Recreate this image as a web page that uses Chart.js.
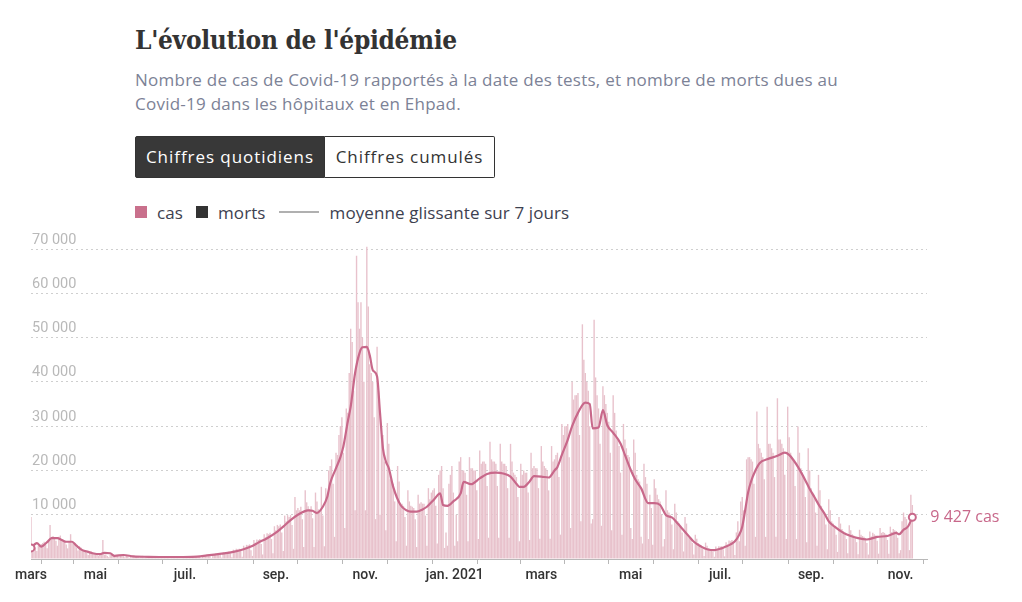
<!DOCTYPE html>
<html lang="fr">
<head>
<meta charset="utf-8">
<title>L'évolution de l'épidémie</title>
<script src="https://cdn.jsdelivr.net/npm/chart.js@4.4.0/dist/chart.umd.min.js"></script>
<style>
  body { margin: 0; background: #fff; font-family: "Open Sans", Roboto, sans-serif; }
  #titre { position: absolute; left: 135px; top: 25px; margin: 0; font: bold 26px "DejaVu Serif Condensed", "DejaVu Serif", serif; font-stretch: condensed; color: #333; letter-spacing: -0.3px; }
  #sousTitre { position: absolute; left: 135px; top: 68px; width: 720px; margin: 0; font-size: 17px; letter-spacing: 0.25px; line-height: 24px; color: #7c8296; }
  .nobr { white-space: nowrap; }
  #boutons { position: absolute; left: 135px; top: 136px; display: flex; }
  #boutons div { box-sizing: border-box; height: 42px; line-height: 40px; font-size: 17px; letter-spacing: 0.95px; text-align: center; border: 1px solid #333; }
  #boutons .actif { width: 190px; background: #383838; color: #fff; border-radius: 2px 0 0 2px; }
  #boutons .inactif { width: 170px; background: #fff; color: #333; border-left: none; border-radius: 0 2px 2px 0; }
  #legende { position: absolute; left: 135px; top: 200px; font-size: 17px; letter-spacing: 0.1px; color: #3d4150; display: flex; align-items: center; height: 24px; }
  #legende .carre { width: 12px; height: 12px; display: inline-block; margin-right: 10px; }
  #legende .trait { width: 40px; height: 2px; background: #b0b0b0; display: inline-block; margin-right: 11px; }
  #legende span.lbl { margin-right: 13px; }
  #zone { position: absolute; left: 0; top: 225px; width: 1022px; height: 377px; }
</style>
</head>
<body>
<h1 id="titre">L'évolution de l'épidémie</h1>
<p id="sousTitre">Nombre de cas de Covid-19 rapportés à la date des tests, et nombre de morts dues au <span class="nobr">Covid-19</span> dans les hôpitaux et en Ehpad.</p>
<div id="boutons"><div class="actif">Chiffres quotidiens</div><div class="inactif">Chiffres cumulés</div></div>
<div id="legende">
  <span class="carre" style="background:#c9708c"></span><span class="lbl">cas</span>
  <span class="carre" style="background:#333"></span><span class="lbl">morts</span>
  <span class="trait"></span><span>moyenne glissante sur 7 jours</span>
</div>
<div id="zone"><canvas id="graphique"></canvas></div>
<script>
// premier jour des données : mercredi 18 mars 2020 (jour 0)
const debut = Date.UTC(2020, 2, 18);

// cas quotidiens, en milliers, une ligne par semaine (mer. -> mar.)
const casEnMilliers = [
  9.5, 2.0, 2.4, 2.6, 1.8, 3.0, 3.3,
  3.4, 3.6, 3.9, 3.2, 2.4, 4.2, 7.7,
  5.0, 5.2, 4.8, 4.1, 3.0, 5.0, 5.3,
  4.4, 4.2, 3.9, 3.3, 2.4, 3.9, 5.6,
  3.6, 3.4, 3.1, 2.6, 1.9, 2.9, 2.6,
  2.0, 1.9, 1.7, 1.4, 0.9, 1.6, 1.7,
  1.4, 1.3, 1.3, 1.0, 0.7, 1.2, 1.3,
  4.3, 1.0, 1.0, 0.7, 0.4, 1.0, 1.0,
  0.9, 0.5, 0.9, 0.7, 0.4, 0.9, 0.9,
  0.8, 0.4, 0.8, 0.6, 0.3, 0.8, 0.8,
  0.7, 0.7, 0.6, 0.5, 0.2, 0.6, 0.7,
  0.6, 0.6, 0.6, 0.4, 0.2, 0.6, 0.6,
  0.6, 0.5, 0.5, 0.4, 0.2, 0.6, 0.6,
  0.5, 0.5, 0.5, 0.4, 0.2, 0.6, 0.6,
  0.6, 0.5, 0.6, 0.4, 0.2, 0.7, 0.6,
  0.6, 0.6, 0.6, 0.4, 0.2, 0.7, 0.6,
  0.7, 0.7, 0.7, 0.5, 0.2, 0.8, 0.7,
  0.9, 0.9, 0.9, 0.7, 0.2, 1.1, 1.0,
  1.2, 1.2, 1.2, 0.9, 0.3, 1.6, 1.4,
  1.6, 1.6, 1.7, 1.3, 0.4, 2.1, 1.9,
  2.3, 2.2, 2.3, 1.8, 0.5, 3.0, 2.6,
  3.2, 3.1, 3.3, 2.0, 0.7, 4.3, 3.7,
  4.4, 4.3, 4.5, 3.4, 1.0, 5.6, 4.9,
  5.8, 5.6, 5.9, 4.5, 1.3, 7.4, 6.5,
  7.7, 7.4, 7.8, 6.0, 1.8, 9.8, 8.5,
  9.9, 9.5, 9.9, 7.7, 2.3, 14.0, 11.0,
  11.5, 11.0, 11.8, 9.0, 2.7, 15.5, 12.8,
  11.9, 11.3, 11.9, 9.2, 2.7, 15.0, 13.0,
  11.2, 11.0, 16.3, 9.8, 2.9, 16.0, 14.0,
  20.0, 21.0, 22.5, 17.0, 5.0, 24.0, 23.5,
  28.0, 30.0, 32.0, 24.0, 7.0, 34.0, 33.0,
  42.0, 52.0, 49.0, 38.0, 11.0, 68.5, 58.0,
  52.0, 58.0, 50.0, 40.0, 11.0, 70.5, 57.0,
  44.0, 42.0, 40.0, 32.0, 9.0, 47.9, 38.0,
  10.0, 30.0, 28.0, 22.0, 6.5, 30.7, 26.0,
  18.0, 17.5, 17.0, 13.0, 4.0, 21.0, 17.5,
  12.5, 12.5, 12.0, 9.5, 3.0, 15.5, 13.0,
  12.0, 11.8, 11.5, 9.0, 2.7, 14.5, 12.5,
  12.8, 12.5, 12.5, 9.8, 3.0, 16.0, 13.5,
  15.0, 15.5, 16.0, 12.0, 3.5, 19.0, 20.0,
  21.0, 16.0, 2.5, 6.0, 3.0, 17.0, 19.0,
  21.0, 15.0, 3.0, 10.0, 4.0, 22.0, 23.0,
  20.0, 20.0, 19.5, 14.5, 4.0, 23.0, 20.5,
  20.5, 20.0, 20.0, 15.5, 4.5, 24.5, 21.5,
  22.0, 22.0, 21.5, 16.5, 4.8, 26.5, 22.5,
  22.0, 22.0, 21.5, 16.5, 4.8, 26.0, 22.0,
  21.5, 21.5, 21.0, 16.0, 4.8, 26.0, 22.0,
  19.5, 19.0, 18.5, 14.0, 4.0, 21.5, 19.0,
  20.0, 19.5, 19.5, 15.0, 4.3, 24.0, 20.5,
  21.0, 20.5, 20.5, 16.0, 4.6, 25.5, 22.0,
  21.0, 20.5, 20.0, 15.5, 4.6, 25.5, 22.0,
  22.5, 23.5, 24.0, 18.5, 5.5, 30.5, 28.0,
  30.0, 30.0, 30.5, 23.0, 7.0, 40.0, 36.0,
  37.0, 37.0, 37.5, 28.0, 8.5, 53.0, 45.0,
  42.0, 40.0, 38.0, 30.0, 8.0, 9.0, 54.0,
  41.0, 37.0, 34.0, 26.0, 7.5, 39.0, 37.0,
  35.0, 33.0, 31.0, 24.0, 6.5, 37.0, 33.0,
  29.0, 27.0, 25.5, 19.5, 5.5, 30.5, 27.0,
  25.0, 23.5, 23.0, 7.0, 4.5, 27.0, 24.0,
  19.0, 18.0, 17.5, 5.0, 3.5, 21.5, 18.5,
  17.0, 4.5, 14.5, 11.5, 3.2, 18.0, 16.0,
  14.5, 13.5, 13.0, 10.0, 2.8, 4.5, 15.5,
  11.0, 10.5, 10.0, 7.8, 2.2, 12.5, 10.5,
  8.5, 8.0, 7.5, 6.0, 1.7, 9.5, 8.0,
  5.5, 5.2, 4.8, 3.6, 1.0, 5.5, 4.6,
  3.6, 3.3, 3.1, 2.4, 0.7, 3.7, 3.0,
  2.4, 2.3, 2.2, 1.7, 0.5, 2.8, 2.3,
  2.9, 2.8, 2.9, 2.2, 0.6, 3.8, 3.3,
  4.2, 4.0, 4.3, 3.4, 0.9, 6.0, 8.5,
  4.0, 13.0, 14.0, 11.0, 3.0, 22.5, 23.0,
  23.0, 22.5, 22.0, 17.0, 5.0, 33.3, 26.0,
  25.0, 24.0, 23.0, 18.0, 5.0, 34.4, 26.0,
  26.0, 25.0, 24.0, 18.5, 5.0, 36.3, 27.0,
  27.0, 26.0, 25.0, 19.0, 4.5, 34.4, 27.5,
  24.0, 23.0, 22.0, 16.5, 4.5, 29.9, 24.0,
  20.5, 19.5, 18.5, 14.0, 3.8, 25.0, 20.0,
  16.0, 15.0, 14.5, 10.5, 3.0, 19.0, 15.5,
  12.0, 11.0, 10.5, 7.8, 2.2, 13.5, 11.0,
  8.5, 8.0, 7.5, 5.5, 1.6, 9.5, 8.0,
  6.8, 6.3, 6.0, 4.5, 1.3, 7.6, 6.5,
  5.6, 5.3, 5.0, 3.8, 1.1, 6.6, 5.5,
  5.2, 5.0, 4.7, 3.6, 1.0, 6.2, 5.1,
  5.9, 5.6, 5.3, 4.1, 1.2, 7.0, 5.9,
  6.1, 5.9, 5.6, 4.3, 1.2, 7.3, 6.1,
  6.8, 6.5, 6.3, 4.8, 1.3, 2.0, 8.5,
  10.5, 9.5, 9.0, 7.0, 2.0, 14.5, 12.2
];

// moyenne glissante sur 7 jours (jour, milliers de cas)
const moyenneJours = [
  0, 4, 7, 11, 14, 18, 21, 24, 28, 31, 35, 39, 42, 47, 50, 54, 57, 63, 70, 80,
  95, 110, 120, 130, 138, 145, 150, 155, 161, 168, 172, 177, 182, 186, 189, 192, 195, 199, 202, 204,
  208, 211, 213, 216, 218, 221, 224, 226, 229, 231, 233, 236, 238, 240, 242, 244, 247, 252, 256, 259,
  263, 267, 270, 275, 279, 281, 284, 288, 293, 295, 300, 306, 311, 317, 322, 327, 331, 333, 336, 340,
  343, 348, 353, 357, 359, 362, 366, 369, 373, 378, 381, 383, 387, 390, 393, 397, 402, 405, 409, 412,
  416, 421, 425, 429, 433, 437, 441, 445, 449, 452, 457, 461, 466, 470, 473, 477, 480, 483, 485, 487,
  489, 491, 494, 497, 502, 509, 514, 517, 520, 523, 528, 531, 534, 538, 541, 544, 548, 554, 559, 564,
  570, 577, 584, 590, 592, 595, 598, 601
];
const moyenneMilliers = [
  2.5, 3.6, 2.8, 3.8, 4.7, 4.7, 4.3, 3.9, 3.9, 3.0, 2.0, 1.6, 1.3, 1.1, 1.4, 1.3, 0.7, 0.9, 0.6, 0.5,
  0.45, 0.5, 0.8, 1.2, 1.6, 2.2, 2.8, 3.7, 4.7, 6.2, 7.3, 8.8, 10.0, 10.7, 11.0, 10.9, 10.4, 11.8, 14.0, 17.1,
  20.5, 23.0, 25.4, 31.0, 34.4, 42.0, 46.5, 47.8, 47.9, 46.0, 42.7, 41.2, 33.0, 25.0, 22.0, 20.5, 16.3, 12.2, 11.0, 10.7,
  10.7, 11.2, 11.8, 13.5, 14.8, 12.2, 12.0, 13.0, 14.8, 17.4, 16.9, 18.2, 19.2, 19.5, 19.3, 18.6, 17.0, 16.3, 16.3, 17.5,
  18.7, 18.6, 18.4, 20.0, 20.8, 23.5, 26.9, 30.0, 33.0, 35.3, 35.0, 29.5, 29.7, 33.6, 30.2, 28.5, 26.1, 23.5, 20.1, 18.0,
  16.0, 12.6, 12.6, 12.2, 9.9, 9.4, 8.0, 6.5, 5.0, 3.9, 2.8, 2.2, 2.0, 2.3, 2.7, 3.3, 4.0, 5.5, 7.3, 11.0,
  15.0, 17.5, 20.0, 21.7, 22.5, 23.3, 24.0, 23.5, 22.3, 20.8, 17.8, 15.8, 14.1, 11.8, 10.3, 8.5, 7.3, 5.9, 5.2, 4.7,
  4.4, 5.0, 5.2, 5.9, 5.6, 6.6, 7.3, 9.427
];

// étiquettes des mois (avril 2020 -> novembre 2021), un mois sur deux
const etiquetteDebut = "mars";
const etiquettesMois = ["", "mai", "", "juil.", "", "sep.", "", "nov.", "", "jan. 2021", "",
  "mars", "", "mai", "", "juil.", "", "sep.", "", "nov."];
const graduationsY = [10000, 20000, 30000, 40000, 50000, 60000, 70000];

const couleurBarres = "#e8c2cc";
const couleurLigne = "#c8688a";

// positions des mois en jours depuis le début
const ticksMois = [{ value: 0, label: etiquetteDebut }];
etiquettesMois.forEach((lbl, i) => {
  const d = Date.UTC(2020, 3 + i, 1);
  ticksMois.push({ value: Math.round((d - debut) / 86400000), label: lbl });
});

function formatNombre(n) {
  return String(Math.round(n)).replace(/\B(?=(\d{3})+(?!\d))/g, " ");
}

const etiquetteFin = {
  id: "etiquetteFin",
  afterDatasetsDraw(chart) {
    const meta = chart.getDatasetMeta(1);
    const pt = meta.data[meta.data.length - 1];
    const ctx = chart.ctx;
    ctx.save();
    ctx.font = "16px 'Open Sans'";
    ctx.fillStyle = couleurLigne;
    ctx.textBaseline = "middle";
    ctx.textAlign = "left";
    const v = moyenneMilliers[moyenneMilliers.length - 1] * 1000;
    ctx.fillText(formatNombre(v) + " cas", pt.x + 18, pt.y);
    ctx.restore();
  }
};

new Chart(document.getElementById("graphique"), {
  type: "bar",
  data: {
    datasets: [{
      type: "bar",
      data: casEnMilliers.map((v, i) => ({ x: i, y: v * 1000 })),
      backgroundColor: couleurBarres,
      barPercentage: 0.95,
      categoryPercentage: 1,
      clip: { left: 0, top: 8, right: 0, bottom: 0 },
      order: 2
    }, {
      type: "line",
      data: moyenneJours.map((j, i) => ({ x: j, y: moyenneMilliers[i] * 1000 })),
      borderColor: couleurLigne,
      borderWidth: 2.2,
      cubicInterpolationMode: "monotone",
      pointRadius: c => (c.dataIndex === 0 || c.dataIndex === moyenneJours.length - 1) ? 3.5 : 0,
      pointBackgroundColor: "#fff",
      pointBorderColor: couleurLigne,
      pointBorderWidth: 2,
      order: 1
    }]
  },
  options: {
    responsive: true,
    maintainAspectRatio: false,
    animation: false,
    layout: { padding: { left: 31, right: 95, top: 24, bottom: 0 } },
    plugins: { legend: { display: false }, tooltip: { enabled: false } },
    scales: {
      x: {
        type: "linear",
        min: 0,
        max: 611,
        offset: false,
        afterFit: s => { s.height = 43; },
        afterBuildTicks: s => { s.ticks = ticksMois.map(t => ({ value: t.value })); },
        grid: { drawOnChartArea: false, drawTicks: true, tickLength: 5, tickColor: "#b8b8b8" },
        border: { display: true, color: "#b8b8b8", width: 1 },
        ticks: {
          autoSkip: false,
          maxRotation: 0,
          padding: 3,
          color: "#333",
          font: { family: "Roboto", size: 14, weight: "500" },
          callback: v => {
            const t = ticksMois.find(m => m.value === v);
            return t ? t.label : "";
          }
        }
      },
      y: {
        min: 0,
        max: 70000,
        afterFit: s => { s.width = 0; },
        afterBuildTicks: s => { s.ticks = [0].concat(graduationsY).map(v => ({ value: v })); },
        grid: {
          drawTicks: false,
          color: c => c.tick && c.tick.value === 0 ? "rgba(0,0,0,0)" : "#cfcfcf"
        },
        border: { display: false, dash: [2, 3] },
        ticks: {
          mirror: true,
          padding: 1,
          labelOffset: -9,
          color: "#b9b9b9",
          font: { family: "Roboto", size: 14.5 },
          callback: v => v === 0 ? "" : formatNombre(v)
        }
      }
    }
  },
  plugins: [etiquetteFin]
});
</script>
</body>
</html>
